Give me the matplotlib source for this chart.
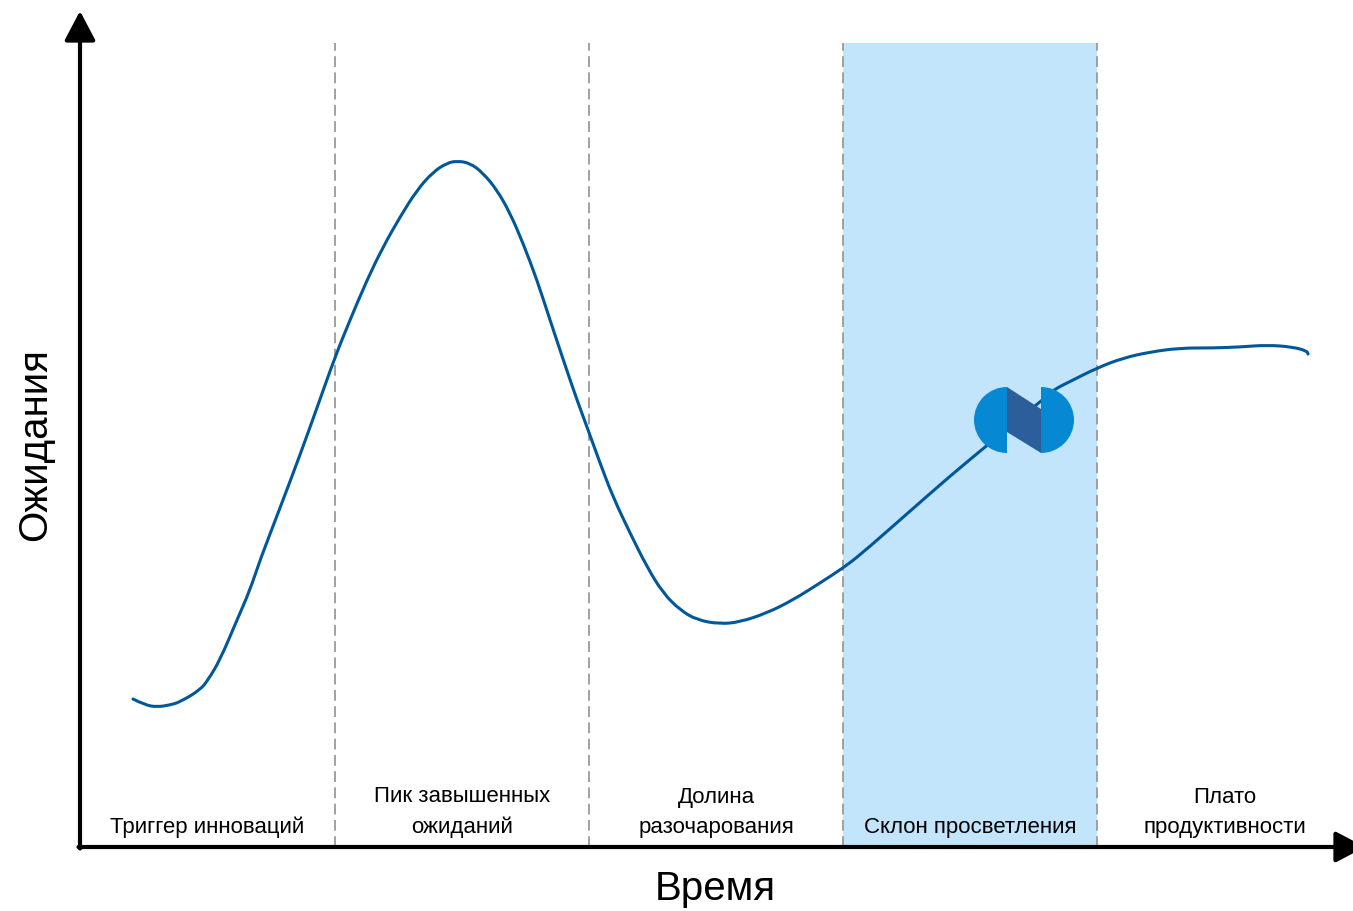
import matplotlib
matplotlib.use('Agg')
import matplotlib.pyplot as plt
from matplotlib.patches import Wedge, Polygon, Rectangle, PathPatch
from matplotlib.path import Path

plt.rcParams['font.family'] = ['Liberation Sans', 'DejaVu Sans']

# кривая хайпа (время, ожидания)
t = [53, 65, 77, 90, 100, 120, 128, 140, 157, 170, 180, 200, 220, 238, 255, 270,
     287, 303, 320, 337, 353, 367, 377, 390, 403, 417, 430, 443, 457, 470, 485,
     497, 507, 520, 533, 550, 567, 583, 600, 617, 640, 660, 687, 713, 740, 763,
     780, 820, 870, 910, 940, 965, 973, 993, 1017, 1043, 1070, 1100, 1133, 1160,
     1187, 1213, 1227, 1228]
e = [148, 142, 140, 142, 145, 157, 167, 187, 227, 257, 287, 339, 392, 442, 490, 527,
     567, 600, 630, 657, 675, 684, 686, 684, 674, 657, 634, 604, 567, 527, 482,
     447, 420, 384, 350, 314, 280, 254, 237, 227, 223, 225, 234, 247, 264, 279,
     292, 327, 371, 404, 429, 449, 457, 467, 479, 489, 495, 499, 499, 500,
     502, 500, 496, 493]

# фазы
phases = ['Триггер инноваций', 'Пик завышенных\nожиданий', 'Долина\nразочарования',
          'Склон просветления', 'Плато\nпродуктивности']
bounds = [0, 255, 509, 763, 1017, 1273]
active = 3


def smooth_path(xs, ys):
    # точки как контрольные для квадратичных кривых Безье, чтобы линия была гладкой
    pts = list(zip(xs, ys))
    verts = [pts[0]]
    codes = [Path.MOVETO]
    for i in range(1, len(pts) - 1):
        mid = ((pts[i][0] + pts[i + 1][0]) / 2, (pts[i][1] + pts[i + 1][1]) / 2)
        verts += [pts[i], mid]
        codes += [Path.CURVE3, Path.CURVE3]
    verts.append(pts[-1])
    codes.append(Path.LINETO)
    return Path(verts, codes)


fig = plt.figure(figsize=(13.53, 9.11), dpi=100)
ax = fig.add_axes([0, 0, 1, 1])
ax.set_xlim(-80, 1273)
ax.set_ylim(-64, 847)
ax.axis('off')

top = 804
# подсветка текущей фазы
ax.add_patch(Rectangle((bounds[active], 0), bounds[active + 1] - bounds[active], top,
                       facecolor='#C3E5FC', edgecolor='none', zorder=0))
for b in bounds[1:-1]:
    ax.plot([b, b], [0, top], color='#9a9a9a', lw=1.3, ls=(0, (6, 3)), zorder=1)

ax.add_patch(PathPatch(smooth_path(t, e), facecolor='none', edgecolor='#00589A',
                       lw=2.2, capstyle='round', joinstyle='round', zorder=3))

for i, name in enumerate(phases):
    xc = (bounds[i] + bounds[i + 1]) / 2
    ax.text(xc, 9, name, ha='center', va='bottom', fontsize=16, linespacing=1.55, zorder=4)

# оси со стрелками
arrow = dict(arrowstyle='-|>,head_length=0.95,head_width=0.5', lw=3,
             color='black', mutation_scale=19, shrinkA=0, shrinkB=0)
ax.annotate('', xy=(0, 836), xytext=(0, -1.5), arrowprops=arrow,
            annotation_clip=False, zorder=5)
ax.annotate('', xy=(1285, 0), xytext=(-1.5, 0), arrowprops=arrow,
            annotation_clip=False, zorder=5)

ax.text(635, -42, 'Время', ha='center', va='center', fontsize=29)
ax.text(-45, 402, 'Ожидания', ha='center', va='center', fontsize=29, rotation=90)

# логотип
cx, cy, r = 927, 427, 33
ax.add_patch(Wedge((cx, cy), r, 90, 270, facecolor='#0689D2', edgecolor='none', zorder=6))
ax.add_patch(Wedge((cx + 34, cy), r, -90, 90, facecolor='#0689D2', edgecolor='none', zorder=6))
ax.add_patch(Polygon([(cx, cy + r), (cx + 34, cy + 11), (cx + 34, cy - r), (cx, cy - 12)],
                     closed=True, facecolor='#2B5E9A', edgecolor='none', zorder=6))

fig.savefig('out.png', dpi=100)
